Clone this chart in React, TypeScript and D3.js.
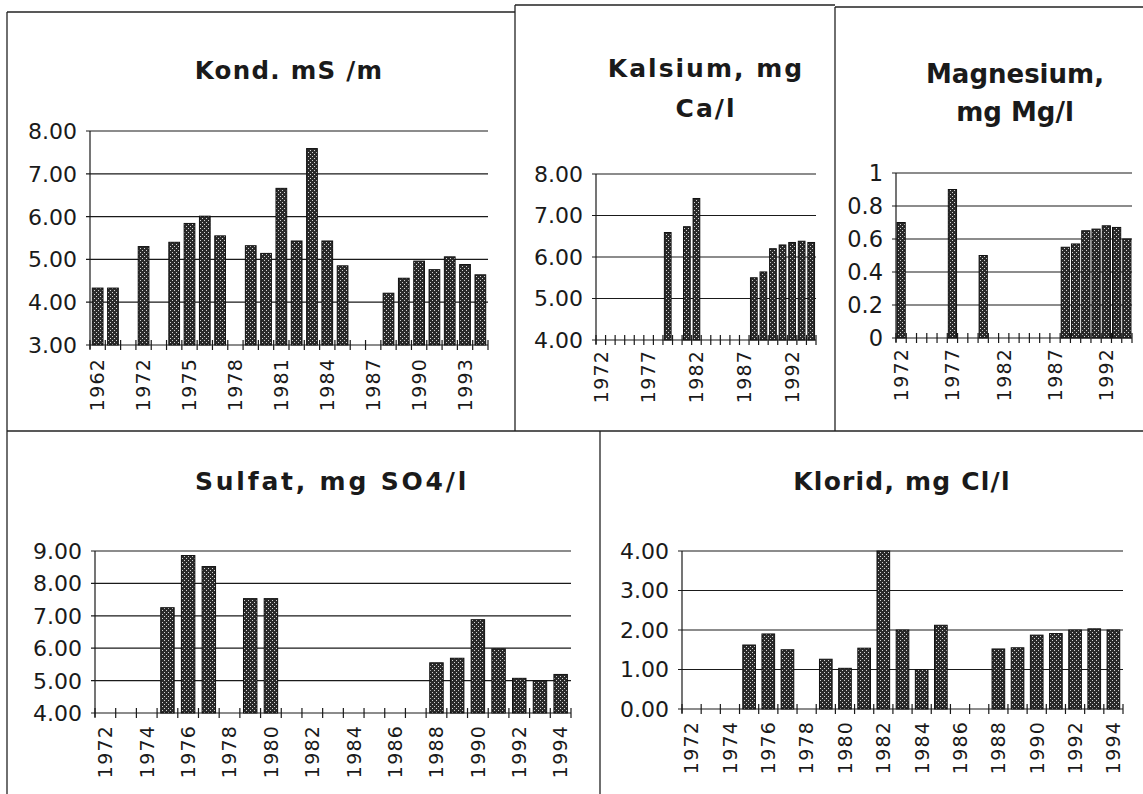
import React from "react";
import * as d3 from "d3";

// ---------- DATA ----------
const kondYears = ["1962", "1965", "1970", "1972", "1973", "1974", "1975", "1976", "1977", "1978", "1979", "1980", "1981", "1982", "1983", "1984", "1985", "1986", "1987", "1988", "1989", "1990", "1991", "1992", "1993", "1994"];
const kondValues: (number | null)[] = [4.33, 4.33, null, 5.3, null, 5.4, 5.84, 6.01, 5.55, null, 5.32, 5.14, 6.66, 5.43, 7.59, 5.43, 4.85, null, null, 4.21, 4.56, 4.96, 4.76, 5.06, 4.88, 4.64];
const kondTicks = [3, 4, 5, 6, 7, 8];

const years = ["1972", "1973", "1974", "1975", "1976", "1977", "1978", "1979", "1980", "1981", "1982", "1983", "1984", "1985", "1986", "1987", "1988", "1989", "1990", "1991", "1992", "1993", "1994"];

const caValues: (number | null)[] = [null, null, null, null, null, null, null, 6.59, null, 6.73, 7.41, null, null, null, null, null, 5.5, 5.64, 6.2, 6.29, 6.35, 6.38, 6.35];
const caTicks = [4, 5, 6, 7, 8];

const mgValues: (number | null)[] = [0.7, null, null, null, null, 0.9, null, null, 0.5, null, null, null, null, null, null, null, 0.55, 0.57, 0.65, 0.66, 0.68, 0.67, 0.6];
const mgTicks = [0, 0.2, 0.4, 0.6, 0.8, 1];
const mgTickLabels = ["0", "0.2", "0.4", "0.6", "0.8", "1"];

const so4Values: (number | null)[] = [null, null, null, 7.25, 8.86, 8.52, null, 7.53, 7.53, null, null, null, null, null, null, null, 5.55, 5.69, 6.88, 5.98, 5.07, 5.0, 5.19];
const so4Ticks = [4, 5, 6, 7, 8, 9];

const clValues: (number | null)[] = [null, null, null, 1.62, 1.9, 1.5, null, 1.26, 1.03, 1.54, 4.0, 2.0, 1.0, 2.12, null, null, 1.52, 1.55, 1.87, 1.91, 2.0, 2.03, 2.0];
const clTicks = [0, 1, 2, 3, 4];

const fmt2 = d3.format(".2f");
const FONT = "'DejaVu Sans', Verdana, sans-serif";
const INK = "#1a1a1a";

type PanelProps = {
  left: number; right: number; top: number; bottom: number;
  domain: [number, number];
  ticks: number[];
  tickLabels?: string[];
  cats: string[];
  values: (number | null)[];
  labelEvery: number;
  padding: number;
  title: string[];
  titleX: number;
  titleY: number;
  titleSize: number;
  titleSpacing: number;
  titleGap: number;
  ySize: number;
  labelGap: number;
};

function Panel(p: PanelProps) {
  const x = d3.scaleBand<string>().domain(p.cats).range([p.left, p.right]).paddingInner(p.padding).paddingOuter(p.padding / 2);
  const y = d3.scaleLinear().domain(p.domain).range([p.bottom, p.top]);
  const step = x.step();
  const bounds = d3.range(p.cats.length + 1).map((i) => p.left + i * step);
  return (
    <g>
      {p.title.map((t, i) => (
        <text key={"t" + i} x={p.titleX} y={p.titleY + i * p.titleGap} textAnchor="middle"
          fontFamily={FONT} fontWeight="bold" fontSize={p.titleSize} letterSpacing={p.titleSpacing} fill={INK}>{t}</text>
      ))}
      {p.ticks.map((t, i) => (
        <g key={"g" + i}>
          <line x1={p.left - 4} x2={p.right} y1={y(t)} y2={y(t)} stroke={INK} strokeWidth={1.2} />
          <text x={p.left - 13} y={y(t)} dy="0.36em" textAnchor="end" fontFamily={FONT} fontSize={p.ySize} fill={INK}>
            {p.tickLabels ? p.tickLabels[i] : fmt2(t)}
          </text>
        </g>
      ))}
      <line x1={p.left} x2={p.left} y1={p.top} y2={p.bottom + 4} stroke={INK} strokeWidth={1.2} />
      {p.cats.map((c, i) => {
        const v = p.values[i];
        if (v === null || v === undefined) return null;
        return (
          <rect key={"b" + i} x={x(c)} y={y(v)} width={x.bandwidth()} height={p.bottom - y(v)}
            fill="url(#dots)" stroke="#111" strokeWidth={1} />
        );
      })}
      {bounds.map((bx, i) => (
        <line key={"k" + i} x1={bx} x2={bx} y1={p.bottom - 5} y2={p.bottom + 5} stroke={INK} strokeWidth={1.2} />
      ))}
      {p.cats.map((c, i) =>
        i % p.labelEvery === 0 ? (
          <text key={"l" + i} transform={`translate(${(x(c) as number) + x.bandwidth() / 2},${p.bottom + p.labelGap}) rotate(-90)`}
            dy="0.36em" textAnchor="end" fontFamily={FONT} fontSize={19} letterSpacing={1.2} fill={INK}>{c}</text>
        ) : null
      )}
    </g>
  );
}

export default function App() {
  return (
    <svg width={1143} height={794} style={{ position: "absolute", left: 0, top: 0, background: "#fff" }}>
      <defs>
        <pattern id="dots" width={4} height={4} patternUnits="userSpaceOnUse">
          <rect width={4} height={4} fill="#2a2a2a" />
          <rect x={0} y={0} width={1} height={1} fill="#d4d4d4" />
          <rect x={2} y={2} width={1} height={1} fill="#d4d4d4" />
        </pattern>
      </defs>
      <rect width={1143} height={794} fill="#fff" />
      {/* panel borders */}
      <g stroke="#222" strokeWidth={1.3}>
        <line x1={7} x2={515} y1={12} y2={12} />
        <line x1={515} x2={835} y1={5} y2={5} />
        <line x1={835} x2={1143} y1={7} y2={7} />
        <line x1={7} x2={7} y1={12} y2={794} />
        <line x1={515} x2={515} y1={5} y2={431} />
        <line x1={835} x2={835} y1={7} y2={431} />
        <line x1={7} x2={1143} y1={431} y2={431} />
        <line x1={600} x2={600} y1={431} y2={794} />
      </g>
      <Panel left={90} right={488} top={131} bottom={345} domain={[3, 8]} ticks={kondTicks}
        cats={kondYears} values={kondValues} labelEvery={3} padding={0.3}
        title={["Kond. mS /m"]} titleX={289} titleY={79} titleSize={24.5} titleSpacing={1.3} titleGap={0}
        ySize={22} labelGap={13} />
      <Panel left={596} right={816} top={174} bottom={340} domain={[4, 8]} ticks={caTicks}
        cats={years} values={caValues} labelEvery={5} padding={0.3}
        title={["Kalsium, mg", "Ca/l"]} titleX={706} titleY={77} titleSize={25} titleSpacing={2} titleGap={40}
        ySize={22} labelGap={10} />
      <Panel left={896} right={1132} top={173} bottom={338} domain={[0, 1]} ticks={mgTicks} tickLabels={mgTickLabels}
        cats={years} values={mgValues} labelEvery={5} padding={0.2}
        title={["Magnesium,", "mg Mg/l"]} titleX={1015} titleY={83} titleSize={26} titleSpacing={0} titleGap={38}
        ySize={22.5} labelGap={10} />
      <Panel left={95} right={571} top={551} bottom={713} domain={[4, 9]} ticks={so4Ticks}
        cats={years} values={so4Values} labelEvery={2} padding={0.35}
        title={["Sulfat, mg SO4/l"]} titleX={332} titleY={490} titleSize={25} titleSpacing={2.8} titleGap={0}
        ySize={22} labelGap={12} />
      <Panel left={682} right={1123} top={551} bottom={709} domain={[0, 4]} ticks={clTicks}
        cats={years} values={clValues} labelEvery={2} padding={0.34}
        title={["Klorid, mg Cl/l"]} titleX={902} titleY={490} titleSize={25} titleSpacing={1.2} titleGap={0}
        ySize={22} labelGap={12} />
    </svg>
  );
}
